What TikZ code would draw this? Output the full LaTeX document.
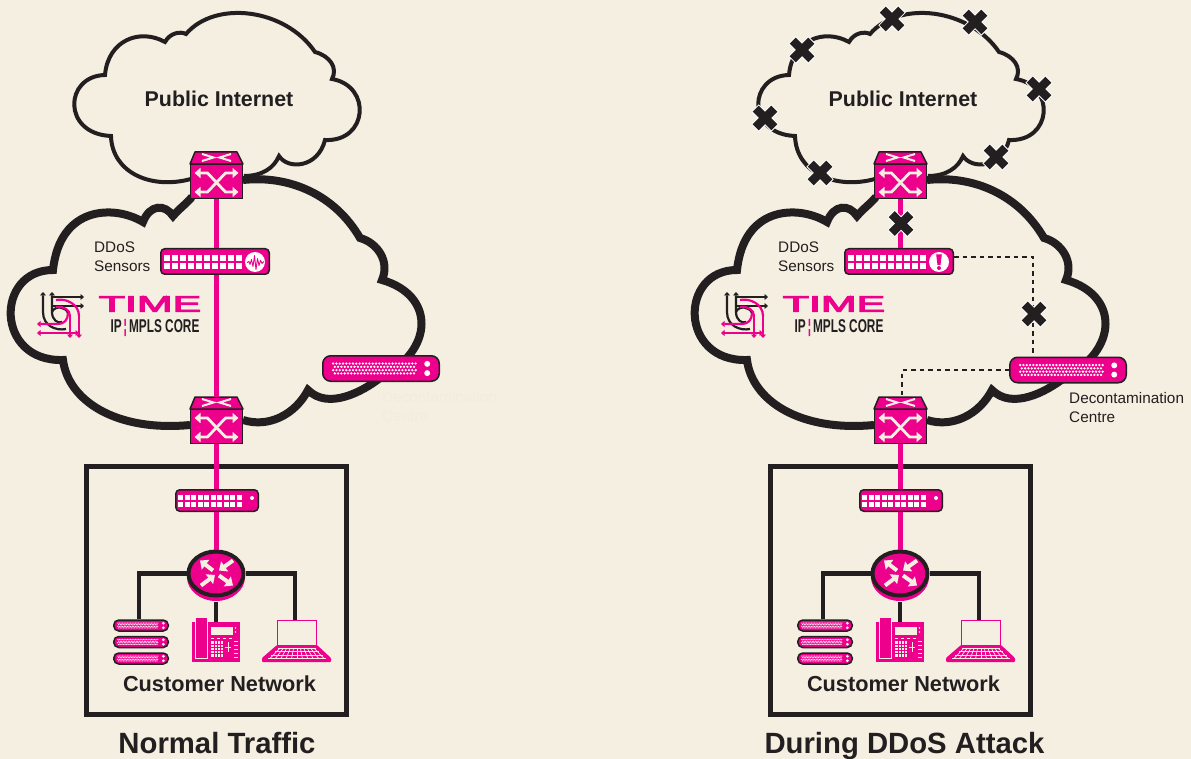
\documentclass[tikz,border=0pt]{standalone}
\usepackage{fontspec}
\setmainfont{Liberation Sans}
\newfontfamily\timefont[FakeBold=4]{Liberation Sans}
\usetikzlibrary{arrows.meta,positioning,shapes.geometric}

\definecolor{ttpink}{HTML}{EC008C}
\definecolor{ttink}{HTML}{231F20}
\definecolor{ttcream}{HTML}{F4EFE1}
\definecolor{ttfaint}{HTML}{F1ECDE}

\tikzset{
	rack/.style 2 args={draw=ttink,fill=ttpink,line width=1.5pt,rounded corners=#2,inner sep=0pt,minimum height=#1},
	switchfront/.style={draw=ttink,fill=ttpink,line width=1.5pt,inner sep=0pt,minimum width=52pt,minimum height=34pt},
	smalltext/.style={font=\fontsize{15.3}{19}\selectfont,text=ttink,align=left,inner sep=0pt},
	boldtext/.style={font=\fontsize{#1}{#1}\selectfont\bfseries,text=ttink,inner sep=0pt},
	cloudthin/.style={draw=ttink,line width=4pt,miter limit=4},
	cloudthick/.style={draw=ttink,line width=8pt,miter limit=4},
	pinkline/.style={draw=ttpink,line width=5pt},
	inkline/.style={draw=ttink,line width=4.5pt},
	dashline/.style={draw=ttink,line width=2.7pt,dash pattern=on 4.5pt off 4pt},
	logoink/.style={draw=ttink,line width=2.2pt},
	logopink/.style={draw=ttpink,line width=2.2pt},
	logotip/.tip={Triangle[length=3.5pt,width=6pt]},
	pics/ports/.style 2 args={code={
		\foreach \i in {0,...,9}{
			\fill[white] ({\i*#1},0) rectangle +(#2,#2);
			\fill[white] ({\i*#1},#1) rectangle +(#2,#2);
		}
	}},
	pics/rackdots/.style={code={
		\foreach \r in {0,1,2,3}
			\draw[white,line width={0.78*#1},line cap=round,dash pattern=on 0pt off #1pt]
				({(-14.5+mod(\r,2)/2)*#1},{(\r-1.5)*#1}) -- ({10.6*#1},{(\r-1.5)*#1});
		\fill[white] ({14*#1},{-1.4*#1}) circle ({0.9*#1});
		\fill[white] ({14*#1},{1.4*#1}) circle ({0.9*#1});
	}},
	pics/sensorwave/.style={code={
		\fill[white] (40,0.5) circle (10);
		\draw[ttpink,line width=.9pt,line join=round] (32,1) -- (34,0) -- (35,3) -- (36.5,-2) -- (38,5) -- (39.5,-6) -- (41,8) -- (42.5,-3) -- (44,4) -- (45.5,-1) -- (47,2) -- (49,0);
	}},
	pics/sensoralert/.style={code={
		\fill[white] (40,0.5) circle (10);
		\fill[ttpink] (37.2,-7) -- (42.8,-7) -- (41.5,3.5) -- (38.5,3.5) -- cycle;
		\fill[ttpink] (40,6.5) circle (2);
	}},
	pics/switchtop/.style={code={
		\filldraw[draw=ttink,fill=ttpink,line width=1.5pt,line join=round] (-26.5,-17.5) -- (-21.5,-29.5) -- (20.5,-29.5) -- (26.5,-17.5) -- cycle;
		\draw[ttcream,line width=2pt] (-14.5,-27.5) -- (-3,-24) -- (-14.5,-20.5);
		\draw[ttcream,line width=2pt] (14.5,-27.5) -- (3,-24) -- (14.5,-20.5);
		\draw[ttcream,line width=2.8pt,{Triangle[length=6pt,width=10pt]}-{Triangle[length=6pt,width=10pt]}] (-22,-8.5) -- (-9,-8.5) -- (9,10.5) -- (22,10.5);
		\draw[ttcream,line width=2.8pt,{Triangle[length=6pt,width=10pt]}-{Triangle[length=6pt,width=10pt]}] (-22,10.5) -- (-9,10.5) -- (9,-8.5) -- (22,-8.5);
	}},
	pics/routerarrows/.style={code={
		\draw[ttcream,line width=4pt,-{Triangle[length=7pt,width=12pt]}] (-3,-3) -- (-16,-13);
		\draw[ttcream,line width=4pt,-{Triangle[length=7pt,width=12pt]}] (17,-13) -- (3,-3);
		\draw[ttcream,line width=4pt,-{Triangle[length=7pt,width=12pt]}] (-15,12) -- (-1,1.5);
		\draw[ttcream,line width=4pt,-{Triangle[length=7pt,width=12pt]}] (3,2) -- (17,12);
	}},
	pics/phoneface/.style={code={
		\filldraw[fill=ttpink,draw=ttcream,line width=1pt] (-21,-25) rectangle (-9,16);
		\fill[ttcream] (-5,-15) rectangle (17,-7);
		\fill[ttcream] (-5,-1) rectangle (7,15);
		\foreach \i in {1,2,3}
			\draw[ttpink,line width=.7pt] ({-5+3*\i},-1) -- ({-5+3*\i},15);
		\foreach \i in {1,...,4}
			\draw[ttpink,line width=.7pt] (-5,{-1+3.2*\i}) -- (7,{-1+3.2*\i});
		\draw[ttcream,line width=1pt] (12,0) -- (12,10);
		\draw[ttcream,line width=1pt] (9,5) -- (15,5);
		\foreach \i in {-1,3,7,11,15}
			\draw[ttcream,line width=1pt] (18,\i) -- (22,\i);
		\fill[ttcream] (19.5,-14) circle (.8);
		\fill[ttcream] (19.5,-10) circle (.8);
		\foreach \i in {-5,1,7,13}
			\draw[ttcream,line width=.8pt] (\i,-4) -- ({\i+3},-4);
	}},
	pics/laptopbase/.style={code={
		\fill[ttpink,rounded corners=1pt] (-20,12) -- (20,12) -- (34,25) -- (34,29) -- (-35,29) -- (-35,25) -- cycle;
		\foreach \i in {-5,...,5}
			\draw[ttcream,line width=.7pt] ({\i*3.4},15) -- ({\i*5.4},25.5);
		\draw[ttcream,line width=.7pt] (-19,15) -- (19,15);
		\draw[ttcream,line width=.7pt] (-22,18.5) -- (22,18.5);
		\draw[ttcream,line width=.7pt] (-26,22) -- (26,22);
		\draw[ttcream,line width=.7pt] (-29,25.5) -- (29,25.5);
	}},
	pics/xmark/.style={code={
		\draw[white,line width=10.5pt] (-10,-10) -- (10,10);
		\draw[white,line width=10.5pt] (-10,10) -- (10,-10);
		\draw[ttink,line width=8.5pt] (-9.3,-9.3) -- (9.3,9.3);
		\draw[ttink,line width=8.5pt] (-9.3,9.3) -- (9.3,-9.3);
	}},
}

\newcommand\panelbody{
	\draw[cloudthin] (191,179) .. controls (150,190) and (112,172) .. (111,136)
		.. controls (62,134) and (64,76) .. (105,75)
		.. controls (108,40) and (140,28) .. (165,42)
		.. controls (170,33) and (180,31) .. (186,34)
		.. controls (215,0) and (285,8) .. (315,52)
		.. controls (330,56) and (338,68) .. (332,79)
		.. controls (372,86) and (368,142) .. (325,140)
		.. controls (318,168) and (288,170) .. (279,156)
		.. controls (274,168) and (262,176) .. (244,176);
	\draw[cloudthick] (192,197) .. controls (185,205) and (180,208) .. (173,216)
		.. controls (165,204) and (150,204) .. (143,222)
		.. controls (115,205) and (60,205) .. (53,270)
		.. controls (-5,270) and (-5,362) .. (63,360)
		.. controls (68,400) and (115,432) .. (190,425);
	\draw[cloudthick] (243,180) .. controls (290,175) and (335,195) .. (360,238)
		.. controls (378,243) and (390,262) .. (382,280)
		.. controls (435,295) and (435,350) .. (380,378)
		.. controls (362,392) and (328,410) .. (308,390)
		.. controls (295,415) and (268,428) .. (243,420);
	\node[boldtext=21.4] (internet) at (219,98.5) {Public Internet};
	\node[smalltext,anchor=north west] (sensorlabel) at (94,242) {DDoS\\Sensors};
	\draw[logoink,{logotip}-] (43,292) -- (43,312) .. controls (43,326) and (56,331) .. (66,329);
	\draw[logoink,{logotip}-] (52,292) -- (52,312) .. controls (52,320) and (58,324) .. (62,322);
	\draw[logoink,-{logotip}] (52,297) -- (84,297);
	\draw[logoink,-{logotip}] (52,306) -- (84,306);
	\draw[logoink] (52,312) .. controls (55,305) and (66,307) .. (68,313);
	\draw[logopink,{logotip}-] (37,324) -- (58,324) .. controls (64,324) and (68,320) .. (68,313);
	\draw[logopink,{logotip}-{logotip}] (37,333) -- (79,333);
	\draw[logopink,-{logotip}] (79,316) -- (79,338);
	\draw[logopink,-{logotip}] (70,316) -- (70,338);
	\draw[logopink] (79,316) .. controls (79,304) and (66,298) .. (56,300);
	\draw[logopink] (70,316) .. controls (70,310) and (64,306) .. (56,307);
	\node[inner sep=0pt,text=ttpink,font=\fontsize{22.3}{22.3}\timefont] (timeword) at (150,304) {\scalebox{1.92}[1]{TIME}};
	\node[inner sep=0pt,text=ttink,font=\fontsize{18.5}{18.5}\selectfont\bfseries] (coreword) at (155,328) {\scalebox{.64}[1]{IP\,{\color{ttpink}¦}\,MPLS CORE}};
	\node[switchfront] (edge) at (216.5,181.5) {};
	\pic at (edge) {switchtop};
	\node[switchfront] (core) at (216.5,426.5) {};
	\pic at (core) {switchtop};
	\node[rack={25.5pt}{4pt},minimum width=108.5pt] (sensor) at (215,261.5) {};
	\pic at (164,255) {ports={8}{6}};
	\draw[pinkline] (edge.south) -- (edge.south |- sensor.north);
	\node[draw=ttink,line width=5pt,inner sep=0pt,minimum width=260pt,minimum height=248pt] (custbox) at (216.5,590.5) {};
	\node[boldtext=21.7] (custlabel) at (219.5,683.5) {Customer Network};
	\node[rack={21.5pt}{4pt},minimum width=82.5pt] (custswitch) at (217,500.5) {};
	\pic at (178,495) {ports={6.5}{5}};
	\fill[white] (252,498) circle (2);
	\fill[ttpink] (216,577) ellipse (29 and 24);
	\node[ellipse,draw=ttink,fill=ttpink,line width=4pt,inner sep=0pt,minimum width=55pt,minimum height=44pt] (router) at (216,573.5) {};
	\pic at (router) {routerarrows};
	\node[rack={11pt}{5pt},minimum width=54.5pt] (servera) at (141,625.5) {};
	\node[rack={11pt}{5pt},minimum width=54.5pt,below=4pt of servera] (serverb) {};
	\node[rack={11pt}{5pt},minimum width=54.5pt,below=4pt of serverb] (serverc) {};
	\pic at (servera) {rackdots=1.6};
	\pic at (serverb) {rackdots=1.6};
	\pic at (serverc) {rackdots=1.6};
	\node[fill=ttpink,inner sep=0pt,minimum width=48pt,minimum height=40pt] (phone) at (216,642) {};
	\pic at (phone) {phoneface};
	\node[draw=ttpink,fill=ttcream,line width=1.5pt,inner sep=0pt,minimum width=39pt,minimum height=25pt] (laptop) at (297,633) {};
	\pic at (laptop) {laptopbase};
	\draw[pinkline] (core.south) -- (core.south |- custswitch.north);
	\draw[pinkline] (core.south |- custswitch.south) -- (core.south |- router.north);
	\draw[inkline] (router.west) -| ([xshift=-2pt]servera.north);
	\draw[inkline] (router.east) -| ([xshift=-2pt]laptop.north);
	\draw[inkline] ([yshift=-4pt]router.south) -- (phone.north);
}

\begin{document}
\begin{tikzpicture}[x=1pt,y=-1pt]
\useasboundingbox (0,0) rectangle (1191,759);
\fill[ttcream] (0,0) rectangle (1191,759);

\begin{scope}[name prefix=L]
	\panelbody
	\pic at (sensor) {sensorwave};
	\draw[pinkline] (edge.south |- sensor.south) -- ([yshift=12pt]core.north);
	\node[rack={25.5pt}{8pt},minimum width=116.5pt] (decon) at (381,368.5) {};
	\pic at (decon) {rackdots=3.3};
	\node[smalltext,anchor=north west,text=ttfaint] (deconlabel) at ([xshift=1pt,yshift=-9pt]decon.south) {Decontamination\\Centre};
	\node[boldtext=29.3,anchor=base] (title) at (217,753) {Normal Traffic};
\end{scope}

\begin{scope}[xshift=684pt,name prefix=R]
	\panelbody
	\pic at (sensor) {sensoralert};
	\node[rack={25.5pt}{8pt},minimum width=116.5pt] (decon) at (384,370) {};
	\pic at (decon) {rackdots=3.3};
	\node[smalltext,anchor=north west] (deconlabel) at ([xshift=1pt,yshift=-9pt]decon.south) {Decontamination\\Centre};
	\draw[dashline] ([yshift=4.5pt]sensor.east) -| ([xshift=-35pt]decon.north);
	\draw[dashline] (decon.west) -| ([xshift=1.5pt,yshift=12pt]core.north);
	\node[boldtext=29.3,anchor=base] (title) at (220.5,753) {During DDoS Attack};
	\pic at (208,19) {xmark};
	\pic at (291,22) {xmark};
	\pic at (118,50) {xmark};
	\pic at (355,89) {xmark};
	\pic at (81,118) {xmark};
	\pic at (312,157) {xmark};
	\pic at (136,173) {xmark};
	\pic at (217,223.5) {xmark};
	\pic at (350,314) {xmark};
\end{scope}
\end{tikzpicture}
\end{document}
